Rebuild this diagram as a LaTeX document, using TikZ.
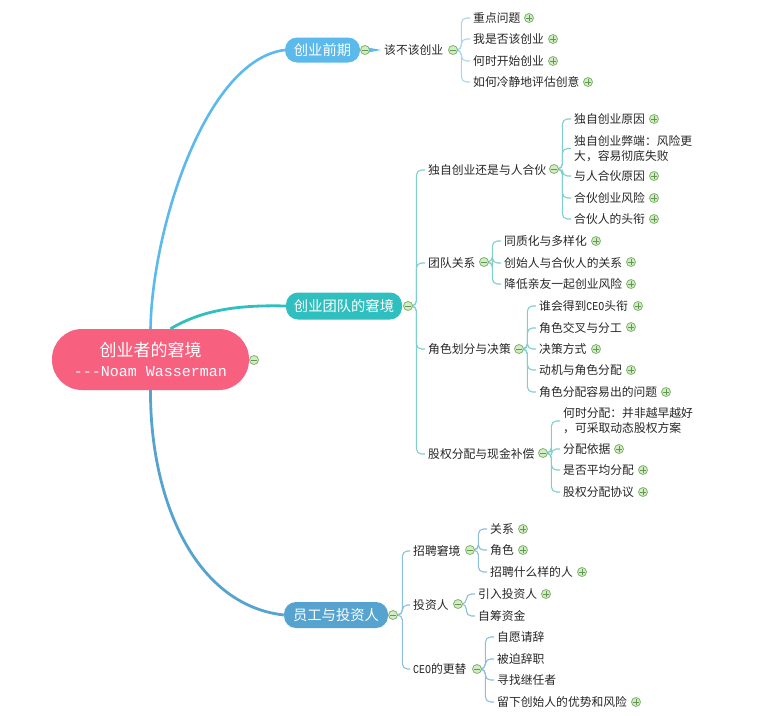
\documentclass[tikz,border=0pt]{standalone}
\usepackage{fontspec}
\usetikzlibrary{backgrounds,calc}
\newfontfamily\cjk{Noto Sans CJK SC}
\newfontfamily\monof{Liberation Mono}
\newfontfamily\monon[FakeStretch=0.83]{Liberation Mono}
\definecolor{rootc}{HTML}{F7617F}
\definecolor{frontc}{HTML}{5BB9EC}
\definecolor{teamc}{HTML}{2FBFBE}
\definecolor{empc}{HTML}{57A3CF}
\definecolor{frontl}{HTML}{A5D8F0}
\definecolor{teaml}{HTML}{7FCFCF}
\definecolor{empl}{HTML}{8DBEDC}
\definecolor{togd}{HTML}{7FB56A}
\definecolor{togf}{HTML}{D4EBC8}
\definecolor{togm}{HTML}{5F9A50}
\tikzset{
  item/.style={anchor=west,inner xsep=3pt,inner ysep=1pt,font=\cjk\fontsize{11.8}{15}\selectfont,text=black!85,align=left},
  pill/.style={inner sep=0pt,text=white,rounded corners=12pt,font=\cjk\fontsize{14.3}{17}\selectfont,align=center},
  togbase/.style={circle,draw=togd,fill=togf,line width=0.8pt,minimum size=9pt,inner sep=0pt},
  togminus/.style={togbase,path picture={\draw[togm,line width=0.8pt] ($(path picture bounding box.center)+(-3,0)$) -- ($(path picture bounding box.center)+(3,0)$);}},
  togplus/.style={togbase,path picture={\draw[togm,line width=0.8pt] ($(path picture bounding box.center)+(-3,0)$) -- ($(path picture bounding box.center)+(3,0)$) ($(path picture bounding box.center)+(0,-3)$) -- ($(path picture bounding box.center)+(0,3)$);}},
  branch/.style={line width=1.1pt,rounded corners=5pt}
}
\newcommand{\itm}[4]{\node[item] (#1) at (#2-3,#3) {#4};}
\newcommand{\plusn}[3]{\node[togplus] (#1) at (#2,#3) {};}
\newcommand{\minusn}[3]{\node[togminus] (#1) at (#2,#3) {};}
\newcommand{\ceo}{{\monon\fontsize{12}{15}\selectfont CEO}}
% parent toggle, trunk offset, child, colour
\newcommand{\brn}[4]{\draw[branch,#4] (#1.east) -- ++(#2,0) |- (#3.west);}
\begin{document}
\begin{tikzpicture}[x=1pt,y=-1pt]
\useasboundingbox (0,0) rectangle (760,715);
% main nodes
\node[pill,fill=rootc,minimum width=197pt,minimum height=61pt,rounded corners=30pt,font=\cjk\fontsize{17}{21}\selectfont] (root) at (150.5,359.5) {创业者的窘境\\[-1pt]{\monof\fontsize{15}{21}\selectfont ---Noam Wasserman}};
\node[pill,fill=frontc,minimum width=75pt,minimum height=25pt] (front) at (322.5,50) {创业前期};
\node[pill,fill=teamc,minimum width=116pt,minimum height=27pt] (team) at (344,306) {创业团队的窘境};
\node[pill,fill=empc,minimum width=104pt,minimum height=26pt] (emp) at (336,615) {员工与投资人};
\minusn{mroot}{254}{360}
\minusn{mfront}{365}{50}
\minusn{mteam}{408}{306}
\minusn{memp}{393}{615}
% front
\itm{a}{384}{50}{该不该创业}\minusn{ma}{453}{50}
\itm{a1}{473}{18}{重点问题}\plusn{pa1}{529}{18}
\itm{a2}{473}{39}{我是否该创业}\plusn{pa2}{553}{39}
\itm{a3}{473}{61}{何时开始创业}\plusn{pa3}{553}{61}
\itm{a4}{473}{82}{如何冷静地评估创意}\plusn{pa4}{588}{82}
% team
\itm{b}{428}{170}{独自创业还是与人合伙}\minusn{mb}{554}{169}
\itm{b1}{574}{119}{独自创业原因}\plusn{pb1}{654}{119}
\itm{b2}{574}{148.5}{独自创业弊端：风险更\\大，容易彻底失败}
\itm{b3}{574}{176}{与人合伙原因}\plusn{pb3}{654}{176}
\itm{b4}{574}{198}{合伙创业风险}\plusn{pb4}{654}{198}
\itm{b5}{574}{219}{合伙人的头衔}\plusn{pb5}{654}{219}
\itm{c}{428}{263}{团队关系}\minusn{mc}{484}{262}
\itm{c1}{504}{241}{同质化与多样化}\plusn{pc1}{596}{241}
\itm{c2}{504}{263}{创始人与合伙人的关系}\plusn{pc2}{631}{262}
\itm{c3}{504}{284}{降低亲友一起创业风险}\plusn{pc3}{631}{284}
\itm{d}{428}{349}{角色划分与决策}\minusn{md}{519}{349}
\itm{d1}{539}{306}{谁会得到\ceo 头衔}\plusn{pd1}{638}{306}
\itm{d2}{539}{328}{角色交叉与分工}\plusn{pd2}{631}{327}
\itm{d3}{539}{349}{决策方式}\plusn{pd3}{596}{349}
\itm{d4}{539}{370}{动机与角色分配}\plusn{pd4}{631}{370}
\itm{d5}{539}{392}{角色分配容易出的问题}\plusn{pd5}{666}{392}
\itm{e}{428}{454}{股权分配与现金补偿}\minusn{me}{543}{453}
\itm{e1}{563}{421}{何时分配：并非越早越好\\，可采取动态股权方案}
\itm{e2}{563}{449}{分配依据}\plusn{pe2}{619}{449}
\itm{e3}{563}{470}{是否平均分配}\plusn{pe3}{643}{470}
\itm{e4}{563}{492}{股权分配协议}\plusn{pe4}{643}{492}
% employees
\itm{f}{413}{551}{招聘窘境}\minusn{mf}{470}{550}
\itm{f1}{490}{529}{关系}\plusn{pf1}{523}{529}
\itm{f2}{490}{550}{角色}\plusn{pf2}{523}{550}
\itm{f3}{490}{572}{招聘什么样的人}\plusn{pf3}{582}{572}
\itm{g}{413}{605}{投资人}\minusn{mg}{458}{604}
\itm{g1}{478}{594}{引入投资人}\plusn{pg1}{546}{594}
\itm{g2}{478}{616}{自筹资金}
\itm{h}{413}{669}{\ceo 的更替}\minusn{mh}{477}{669}
\itm{h1}{497}{637}{自愿请辞}
\itm{h2}{497}{659}{被迫辞职}
\itm{h3}{497}{680}{寻找继任者}
\itm{h4}{497}{702}{留下创始人的优势和风险}\plusn{ph4}{636}{702}
\begin{scope}[on background layer]
% main curves
\draw[frontc,line width=2.6pt] (root.north) .. controls (152,230) and (205,60) .. (front.west);
\draw[teamc,line width=2.8pt] ([xshift=20pt]root.north) .. controls (205,308) and (245,305) .. (team.west);
\draw[empc,line width=2.8pt] (root.south) .. controls (150,500) and (195,605) .. (emp.west);
\fill[frontc] ($(mfront.center)+(0,-3)$) -- (a.west) -- ($(mfront.center)+(0,3)$) -- cycle;
% brackets
\foreach \c in {a1,a2,a3,a4} {\brn{ma}{3.5}{\c}{frontl}}
\foreach \c in {b,c,d,e} {\brn{mteam}{3.5}{\c}{teaml}}
\foreach \c in {b1,b2,b3,b4,b5} {\brn{mb}{3.5}{\c}{teaml}}
\foreach \c in {c1,c2,c3} {\brn{mc}{3.5}{\c}{teaml}}
\foreach \c in {d1,d2,d3,d4,d5} {\brn{md}{3.5}{\c}{teaml}}
\foreach \c in {e1,e2,e3,e4} {\brn{me}{3.5}{\c}{teaml}}
\foreach \c in {f,g,h} {\brn{memp}{4.5}{\c}{empl}}
\foreach \c in {f1,f2,f3} {\brn{mf}{3.5}{\c}{empl}}
\foreach \c in {g1,g2} {\brn{mg}{3.5}{\c}{empl}}
\foreach \c in {h1,h2,h3,h4} {\brn{mh}{3.5}{\c}{empl}}
\end{scope}
\end{tikzpicture}
\end{document}
